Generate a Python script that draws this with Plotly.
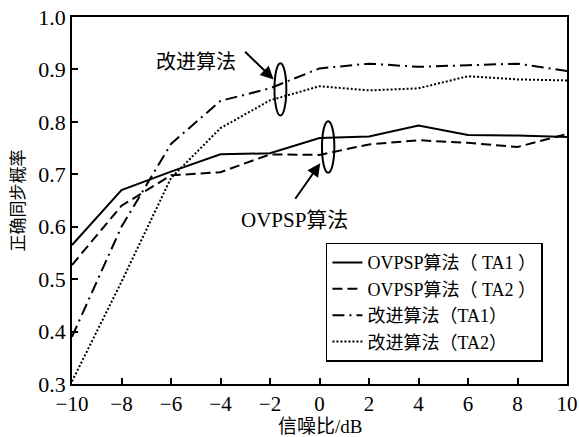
import plotly.graph_objects as go

snr = [-10, -8, -6, -4, -2, 0, 2, 4, 6, 8, 10]
ovpsp_ta1 = [0.565, 0.670, 0.705, 0.738, 0.740, 0.769, 0.772, 0.793, 0.775, 0.774, 0.771]
ovpsp_ta2 = [0.527, 0.640, 0.698, 0.704, 0.738, 0.737, 0.757, 0.765, 0.760, 0.752, 0.777]
impr_ta1 = [0.390, 0.600, 0.758, 0.840, 0.864, 0.902, 0.911, 0.905, 0.908, 0.911, 0.897]
impr_ta2 = [0.305, 0.495, 0.693, 0.788, 0.841, 0.868, 0.860, 0.864, 0.887, 0.881, 0.879]

names = ["OVPSP算法（ TA1 ）", "OVPSP算法（ TA2 ）", "改进算法（TA1）", "改进算法（TA2）"]
xticks = [-10, -8, -6, -4, -2, 0, 2, 4, 6, 8, 10]
yticks = [0.3, 0.4, 0.5, 0.6, 0.7, 0.8, 0.9, 1.0]

FONT = "Liberation Serif, Times New Roman, Noto Sans CJK SC, serif"

fig = go.Figure()
styles = ["solid", "10px,5px", "12px,5px,2px,5px", "2px,2px"]
for ys, nm, ds in zip([ovpsp_ta1, ovpsp_ta2, impr_ta1, impr_ta2], names, styles):
    fig.add_trace(go.Scatter(x=snr, y=ys, mode="lines", name=nm,
                             line=dict(color="black", width=2, dash=ds)))

# ellipses
fig.add_shape(type="circle", xref="x", yref="y", x0=-1.82, x1=-1.34, y0=0.812, y1=0.912,
              line=dict(color="black", width=2))
fig.add_shape(type="circle", xref="x", yref="y", x0=0.10, x1=0.60, y0=0.703, y1=0.801,
              line=dict(color="black", width=2))

# arrows + labels
fig.add_annotation(x=-1.855, y=0.881, ax=-30, ay=-29, text="", showarrow=True,
                   arrowhead=2, arrowsize=1.3, arrowwidth=2, arrowcolor="black")
fig.add_annotation(x=0.03, y=0.721, ax=-26, ay=37, text="", showarrow=True,
                   arrowhead=2, arrowsize=1.3, arrowwidth=2, arrowcolor="black")
fig.add_annotation(x=-5.0, y=0.915, text="改进算法", showarrow=False,
                   font=dict(family=FONT, size=20, color="black"))
fig.add_annotation(x=-1.0, y=0.613, text="OVPSP算法", showarrow=False,
                   font=dict(family=FONT, size=21, color="black"))
fig.add_annotation(xref="paper", yref="paper", x=0.5, y=-0.117, text="信噪比/dB",
                   showarrow=False, yanchor="middle",
                   font=dict(family=FONT, size=19, color="black"))

fig.update_layout(
    width=579, height=437,
    margin=dict(l=72, r=12, t=17, b=53, autoexpand=False),
    paper_bgcolor="white", plot_bgcolor="white",
    font=dict(family=FONT, size=22, color="black"),
    showlegend=True,
    legend=dict(x=0.513, y=0.385, xanchor="left", yanchor="top",
                bgcolor="white", bordercolor="black", borderwidth=1.5,
                font=dict(family=FONT, size=18, color="black"),
                tracegroupgap=0, itemwidth=30),
    xaxis=dict(range=[-10, 10], tickvals=xticks, ticktext=[str(v).replace("-", "−") for v in xticks],
               ticks="inside", ticklen=6, tickwidth=1.5, tickcolor="black",
               showline=True, linecolor="black", linewidth=1.5, mirror=True,
               showgrid=False, zeroline=False, tickfont=dict(size=21), automargin=False),
    yaxis=dict(range=[0.3, 1.0], tickvals=yticks, ticktext=[f"{v:.1f}" for v in yticks],
               ticks="inside", ticklen=6, tickwidth=1.5, tickcolor="black",
               showline=True, linecolor="black", linewidth=1.5, mirror=True,
               showgrid=False, zeroline=False, tickfont=dict(size=22), automargin=False,
               title=dict(text="正确同步概率", font=dict(family=FONT, size=17), standoff=9)),
)

fig.write_html("out.html", config={"displayModeBar": False},
               post_script="document.body.style.margin='0';document.body.style.overflow='hidden';")
